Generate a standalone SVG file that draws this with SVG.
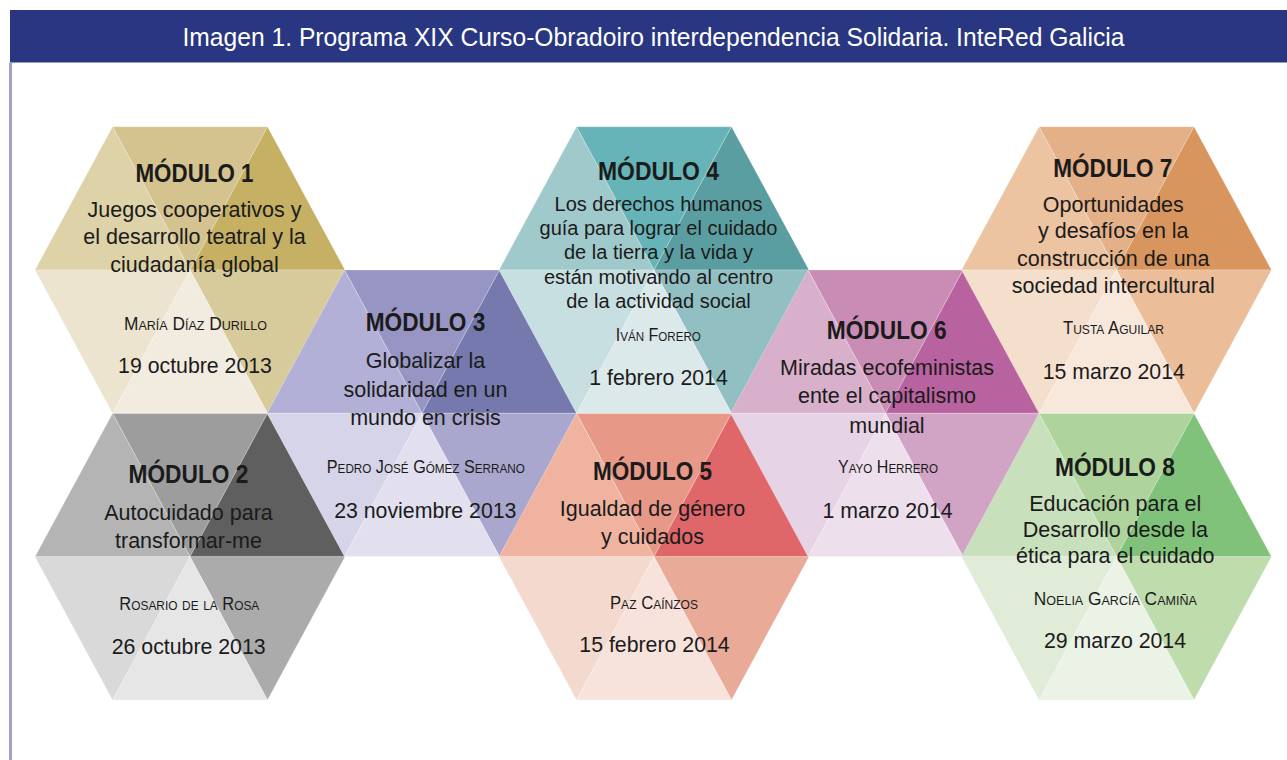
<svg xmlns="http://www.w3.org/2000/svg" xmlns:xlink="http://www.w3.org/1999/xlink" width="1287" height="760" viewBox="0 0 1287 760">
  <style>
    .tri { stroke: #ffffff; stroke-opacity: 0.3; stroke-width: 0.8; }
    .t { font-family: "Liberation Sans", Arial, sans-serif; fill: #1b1b1b; text-anchor: middle; }
    .h { font-weight: bold; font-size: 26px; }
    .b { font-size: 21.5px; }
    .b4 { font-size: 20px; }
    .n { font-size: 18px; font-variant: small-caps; }
    .d { font-size: 21.3px; }
    .title { font-family: "Liberation Sans", Arial, sans-serif; fill: #ffffff; font-size: 25px; text-anchor: middle; }
  </style>
  <defs>
    <path id="tT" d="M0,0 L-77.5,-143.3 L77.5,-143.3 Z"/>
    <path id="tUR" d="M0,0 L77.5,-143.3 L155,0 Z"/>
    <path id="tLR" d="M0,0 L155,0 L77.5,143.3 Z"/>
    <path id="tB" d="M0,0 L77.5,143.3 L-77.5,143.3 Z"/>
    <path id="tLL" d="M0,0 L-77.5,143.3 L-155,0 Z"/>
    <path id="tUL" d="M0,0 L-155,0 L-77.5,-143.3 Z"/>
  </defs>

  <rect width="1287" height="760" fill="#ffffff"/>

  <g id="header">
    <rect x="10" y="10" width="1277" height="52.5" fill="#293681"/>
    <rect x="9" y="62.5" width="3" height="697.5" fill="#a29fcc"/>
    <text class="title" x="653.5" y="46" textLength="942" lengthAdjust="spacingAndGlyphs">Imagen 1. Programa XIX Curso-Obradoiro interdependencia Solidaria. InteRed Galicia</text>
  </g>

  <g id="connectors"></g>

  <g id="modulo1">
    <g class="tri" transform="translate(190,270)">
      <use xlink:href="#tT" fill="#d4c38f"/>
      <use xlink:href="#tUL" fill="#ded2a8"/>
      <use xlink:href="#tUR" fill="#c5b064"/>
      <use xlink:href="#tLR" fill="#d8cb9b"/>
      <use xlink:href="#tB" fill="#f2ece0"/>
      <use xlink:href="#tLL" fill="#ece4cf"/>
    </g>
    <text class="t h" x="194.5" y="181.7" textLength="118" lengthAdjust="spacingAndGlyphs">MÓDULO 1</text>
    <text class="t b" x="194.5" y="216.7">Juegos cooperativos y</text>
    <text class="t b" x="194.5" y="244">el desarrollo teatral y la</text>
    <text class="t b" x="194.5" y="272">ciudadanía global</text>
    <text class="t n" x="195.5" y="330" textLength="143" lengthAdjust="spacingAndGlyphs">María Díaz Durillo</text>
    <text class="t d" x="195" y="373.3">19 octubre 2013</text>
  </g>

  <g id="modulo2">
    <g class="tri" transform="translate(190,556.7)">
      <use xlink:href="#tT" fill="#9d9d9d"/>
      <use xlink:href="#tUL" fill="#b4b4b4"/>
      <use xlink:href="#tUR" fill="#5f5f5f"/>
      <use xlink:href="#tLR" fill="#ababab"/>
      <use xlink:href="#tB" fill="#e6e6e6"/>
      <use xlink:href="#tLL" fill="#d9d9d9"/>
    </g>
    <text class="t h" x="188.5" y="483.3" textLength="120" lengthAdjust="spacingAndGlyphs">MÓDULO 2</text>
    <text class="t b" x="188.5" y="520">Autocuidado para</text>
    <text class="t b" x="188.5" y="548.3">transformar-me</text>
    <text class="t n" x="189.3" y="610" textLength="140" lengthAdjust="spacingAndGlyphs">Rosario de la Rosa</text>
    <text class="t d" x="188.7" y="654.3">26 octubre 2013</text>
  </g>

  <g id="modulo3">
    <g class="tri" transform="translate(422,413.3)">
      <use xlink:href="#tT" fill="#9795c3"/>
      <use xlink:href="#tUL" fill="#b2b0d6"/>
      <use xlink:href="#tUR" fill="#7579ad"/>
      <use xlink:href="#tLR" fill="#a9a7cd"/>
      <use xlink:href="#tB" fill="#e2e0ef"/>
      <use xlink:href="#tLL" fill="#d6d4e8"/>
    </g>
    <text class="t h" x="425.5" y="331" textLength="119.5" lengthAdjust="spacingAndGlyphs">MÓDULO 3</text>
    <text class="t b" x="425.5" y="368.3">Globalizar la</text>
    <text class="t b" x="425.5" y="396.7">solidaridad en un</text>
    <text class="t b" x="425.5" y="425">mundo en crisis</text>
    <text class="t n" x="425.8" y="473.3" textLength="198" lengthAdjust="spacingAndGlyphs">Pedro José Gómez Serrano</text>
    <text class="t d" x="425.3" y="518.3">23 noviembre 2013</text>
  </g>

  <g id="modulo4">
    <g class="tri" transform="translate(654,270)">
      <use xlink:href="#tT" fill="#67b4b8"/>
      <use xlink:href="#tUL" fill="#a0c9cb"/>
      <use xlink:href="#tUR" fill="#5b9ea1"/>
      <use xlink:href="#tLR" fill="#91bfc2"/>
      <use xlink:href="#tB" fill="#dce9ea"/>
      <use xlink:href="#tLL" fill="#c7dfe0"/>
    </g>
    <text class="t h" x="658.5" y="180" textLength="121" lengthAdjust="spacingAndGlyphs">MÓDULO 4</text>
    <text class="t b4" x="658.5" y="210.7">Los derechos humanos</text>
    <text class="t b4" x="658.5" y="235">guía para lograr el cuidado</text>
    <text class="t b4" x="658.5" y="259.3">de la tierra y la vida y</text>
    <text class="t b4" x="658.5" y="284">están motivando al centro</text>
    <text class="t b4" x="658.5" y="308.3">de la actividad social</text>
    <text class="t n" x="658.3" y="340.7" textLength="85" lengthAdjust="spacingAndGlyphs">Iván Forero</text>
    <text class="t d" x="658.5" y="385">1 febrero 2014</text>
  </g>

  <g id="modulo5">
    <g class="tri" transform="translate(654,556.7)">
      <use xlink:href="#tT" fill="#e79886"/>
      <use xlink:href="#tUL" fill="#efb3a0"/>
      <use xlink:href="#tUR" fill="#df676a"/>
      <use xlink:href="#tLR" fill="#e9aa98"/>
      <use xlink:href="#tB" fill="#f8e3dc"/>
      <use xlink:href="#tLL" fill="#f4d9cf"/>
    </g>
    <text class="t h" x="652.5" y="480" textLength="119" lengthAdjust="spacingAndGlyphs">MÓDULO 5</text>
    <text class="t b" x="652.5" y="516">Igualdad de género</text>
    <text class="t b" x="652.5" y="544.3">y cuidados</text>
    <text class="t n" x="654" y="609" textLength="88" lengthAdjust="spacingAndGlyphs">Paz Caínzos</text>
    <text class="t d" x="654.5" y="651.7">15 febrero 2014</text>
  </g>

  <g id="modulo6">
    <g class="tri" transform="translate(885.5,413.3)">
      <use xlink:href="#tT" fill="#c98db5"/>
      <use xlink:href="#tUL" fill="#d9b0cc"/>
      <use xlink:href="#tUR" fill="#b8629f"/>
      <use xlink:href="#tLR" fill="#d1a3c4"/>
      <use xlink:href="#tB" fill="#ede0ec"/>
      <use xlink:href="#tLL" fill="#e6d4e6"/>
    </g>
    <text class="t h" x="886.7" y="339.3" textLength="120" lengthAdjust="spacingAndGlyphs">MÓDULO 6</text>
    <text class="t b" x="887" y="375">Miradas ecofeministas</text>
    <text class="t b" x="887" y="403.3">ente el capitalismo</text>
    <text class="t b" x="887" y="432.7">mundial</text>
    <text class="t n" x="888" y="473.3" textLength="100" lengthAdjust="spacingAndGlyphs">Yayo Herrero</text>
    <text class="t d" x="887.5" y="518.3">1 marzo 2014</text>
  </g>

  <g id="modulo7">
    <g class="tri" transform="translate(1116.5,270)">
      <use xlink:href="#tT" fill="#e3b088"/>
      <use xlink:href="#tUL" fill="#ecc4a2"/>
      <use xlink:href="#tUR" fill="#d9955e"/>
      <use xlink:href="#tLR" fill="#ebbd98"/>
      <use xlink:href="#tB" fill="#f8e8dc"/>
      <use xlink:href="#tLL" fill="#f4dfcc"/>
    </g>
    <text class="t h" x="1112.8" y="177.3" textLength="119" lengthAdjust="spacingAndGlyphs">MÓDULO 7</text>
    <text class="t b" x="1113.3" y="211.7">Oportunidades</text>
    <text class="t b" x="1113.3" y="238.3">y desafíos en la</text>
    <text class="t b" x="1113.3" y="265.7">construcción de una</text>
    <text class="t b" x="1113.3" y="293.3">sociedad intercultural</text>
    <text class="t n" x="1113.5" y="334.3" textLength="101" lengthAdjust="spacingAndGlyphs">Tusta Aguilar</text>
    <text class="t d" x="1113.8" y="379">15 marzo 2014</text>
  </g>

  <g id="modulo8">
    <g class="tri" transform="translate(1116.5,556.7)">
      <use xlink:href="#tT" fill="#aed39c"/>
      <use xlink:href="#tUL" fill="#c8e0bc"/>
      <use xlink:href="#tUR" fill="#80c27a"/>
      <use xlink:href="#tLR" fill="#bedcac"/>
      <use xlink:href="#tB" fill="#ebf2e6"/>
      <use xlink:href="#tLL" fill="#e0ecd8"/>
    </g>
    <text class="t h" x="1115" y="475.7" textLength="120" lengthAdjust="spacingAndGlyphs">MÓDULO 8</text>
    <text class="t b" x="1115.3" y="511">Educación para el</text>
    <text class="t b" x="1115.3" y="536.7">Desarrollo desde la</text>
    <text class="t b" x="1115.3" y="562.7">ética para el cuidado</text>
    <text class="t n" x="1115.3" y="605" textLength="163" lengthAdjust="spacingAndGlyphs">Noelia García Camiña</text>
    <text class="t d" x="1115" y="648.3">29 marzo 2014</text>
  </g>
</svg>
